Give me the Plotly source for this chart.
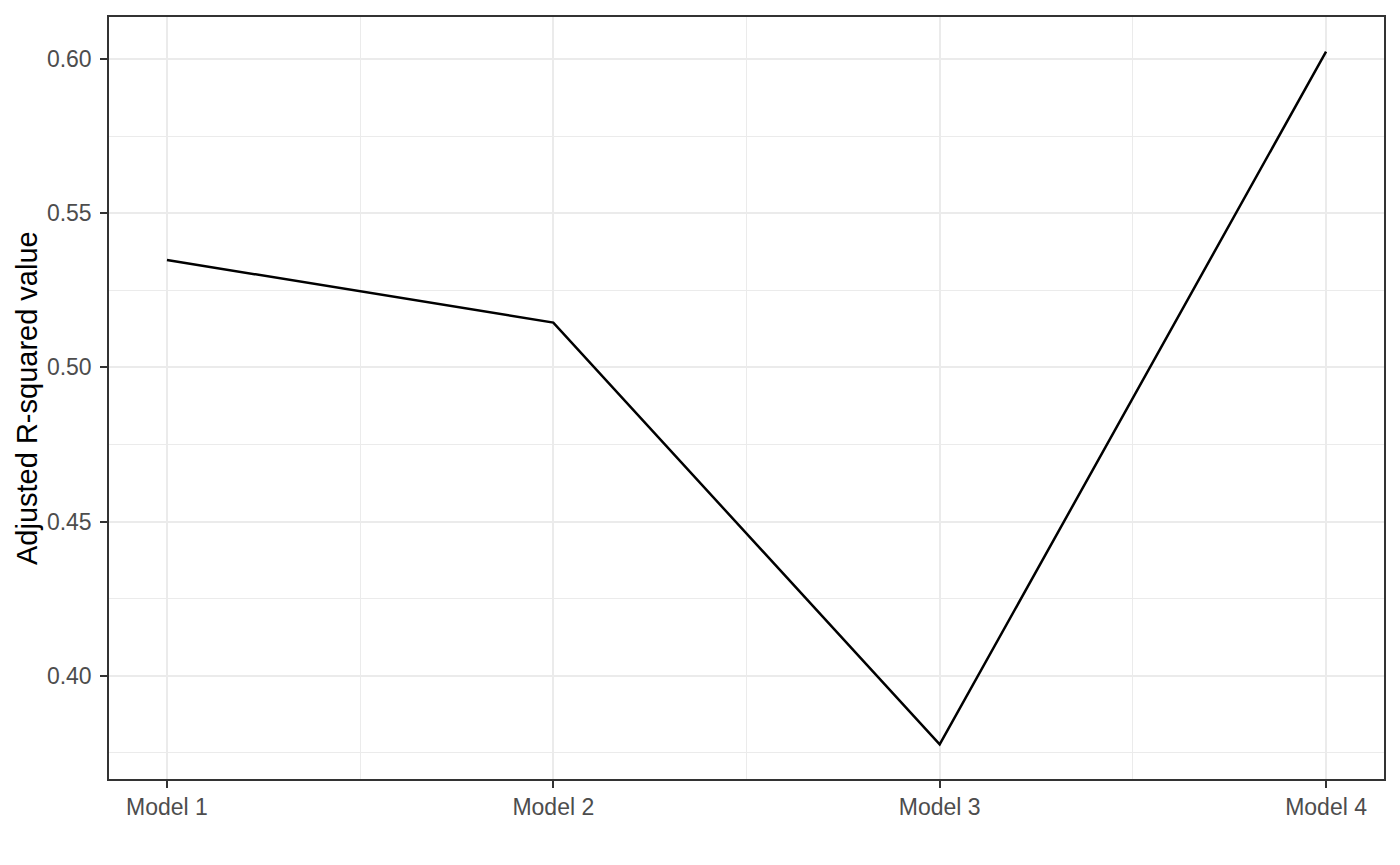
import plotly.graph_objects as go

models = ["Model 1", "Model 2", "Model 3", "Model 4"]
x_pos = [1, 2, 3, 4]
adj_r2 = [0.5348, 0.5145, 0.3777, 0.6024]
y_ticks = [0.40, 0.45, 0.50, 0.55, 0.60]
y_tick_labels = ["0.40", "0.45", "0.50", "0.55", "0.60"]

# page body has an 8px margin, so the figure is slightly smaller
W, H = 1392, 857
ml, mr, mt, mb = 101, 16, 7, 86

fig = go.Figure()
fig.add_trace(go.Scatter(x=x_pos, y=adj_r2, mode="lines",
                         line=dict(color="black", width=2.5), showlegend=False))

font_family = "Liberation Sans, Arial, Helvetica, sans-serif"

fig.update_layout(
    width=W, height=H,
    margin=dict(l=ml, r=mr, t=mt, b=mb),
    paper_bgcolor="white", plot_bgcolor="white",
    font=dict(family=font_family),
    xaxis=dict(
        range=[0.85, 4.15], tickvals=x_pos, ticktext=models,
        showgrid=True, gridcolor="#EBEBEB", gridwidth=2.2,
        minor=dict(tickvals=[1.5, 2.5, 3.5], showgrid=True, gridcolor="#EBEBEB", gridwidth=1.1, ticks=""),
        ticks="outside", ticklen=7, tickwidth=2, tickcolor="#333333",
        tickfont=dict(size=23, color="#4D4D4D", family=font_family),
        showline=True, linecolor="#333333", linewidth=1.5, mirror=True,
        zeroline=False,
    ),
    yaxis=dict(
        range=[0.3665, 0.6136], tickvals=y_ticks, ticktext=y_tick_labels,
        showgrid=True, gridcolor="#EBEBEB", gridwidth=2.2,
        minor=dict(tickvals=[0.375, 0.425, 0.475, 0.525, 0.575], showgrid=True, gridcolor="#EBEBEB", gridwidth=1.1, ticks=""),
        ticks="outside", ticklen=7, tickwidth=2, tickcolor="#333333",
        tickfont=dict(size=23, color="#4D4D4D", family=font_family),
        showline=True, linecolor="#333333", linewidth=1.5, mirror=True,
        zeroline=False, ticklabelstandoff=4,
    ),
)

fig.add_annotation(
    text="Adjusted R-squared value", textangle=-90,
    xref="paper", yref="paper", x=(19 - ml) / (W - ml - mr), y=0.5,
    xanchor="center", yanchor="middle", showarrow=False,
    font=dict(size=29, color="black", family=font_family),
)

fig.write_html("out.html")
